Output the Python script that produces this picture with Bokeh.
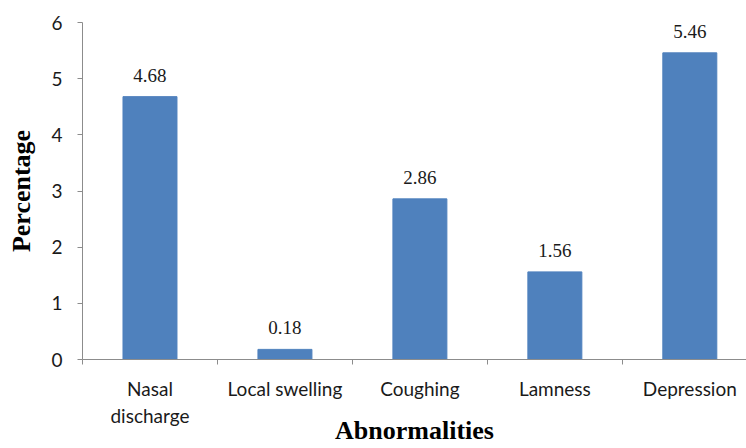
from bokeh.plotting import figure
from bokeh.models import Range1d, FixedTicker, ColumnDataSource, LabelSet
from bokeh.embed import file_html
from bokeh.resources import INLINE

categories = ["Nasal discharge", "Local swelling", "Coughing", "Lamness", "Depression"]
tick_labels = ["Nasal\ndischarge", "Local swelling", "Coughing", "Lamness", "Depression"]
values = [4.68, 0.18, 2.86, 1.56, 5.46]
y_ticks = [0, 1, 2, 3, 4, 5, 6]

x = [i + 0.5 for i in range(len(categories))]
boundaries = [float(i) for i in range(len(categories) + 1)]
src = ColumnDataSource(dict(x=x, top=values, label=[f"{v:.2f}" for v in values]))

p = figure(width=746, height=448, output_backend="svg", toolbar_location=None,
           x_range=Range1d(0, 4.92), y_range=Range1d(0, 6),
           min_border_left=82, min_border_right=0, min_border_top=22, min_border_bottom=89)
p.outline_line_color = None
p.xgrid.visible = False
p.ygrid.visible = False

p.vbar(x="x", top="top", width=0.4, source=src, color="#4F81BD")
p.add_layout(LabelSet(x="x", y="top", text="label", source=src, y_offset=15,
                      text_align="center", text_baseline="alphabetic",
                      text_font="Lato", text_font_size="19px", text_color="#1A1A1A"))

gray = "#8C8C8C"
ya = p.yaxis[0]
ya.ticker = FixedTicker(ticks=y_ticks, minor_ticks=[])
ya.axis_line_color = gray
ya.major_tick_line_color = gray
ya.major_tick_out = 5
ya.major_tick_in = 0
ya.minor_tick_line_color = None
ya.major_label_text_font = "Lato"
ya.major_label_text_font_size = "19px"
ya.major_label_text_color = "#1A1A1A"
ya.major_label_standoff = 15
ya.axis_label = "Percentage"
ya.axis_label_text_font = "Liberation Serif"
ya.axis_label_text_font_style = "bold"
ya.axis_label_text_font_size = "26px"
ya.axis_label_text_color = "#000000"
ya.axis_label_standoff = 12

xa = p.xaxis[0]
xa.ticker = FixedTicker(ticks=x, minor_ticks=boundaries)
xa.axis_line_color = gray
xa.major_tick_line_color = None
xa.major_tick_out = 0
xa.major_tick_in = 0
xa.minor_tick_line_color = gray
xa.minor_tick_out = 5
xa.minor_tick_in = 0
xa.major_label_overrides = {xv: t for xv, t in zip(x, tick_labels)}
xa.major_label_text_font = "Lato"
xa.major_label_text_font_size = "19px"
xa.major_label_text_color = "#1A1A1A"
xa.major_label_standoff = 12
xa.axis_label = "Abnormalities"
xa.axis_label_text_font = "Liberation Serif"
xa.axis_label_text_font_style = "bold"
xa.axis_label_text_font_size = "26px"
xa.axis_label_text_color = "#000000"
xa.axis_label_standoff = -14

open("out.html", "w").write(file_html(p, INLINE))
